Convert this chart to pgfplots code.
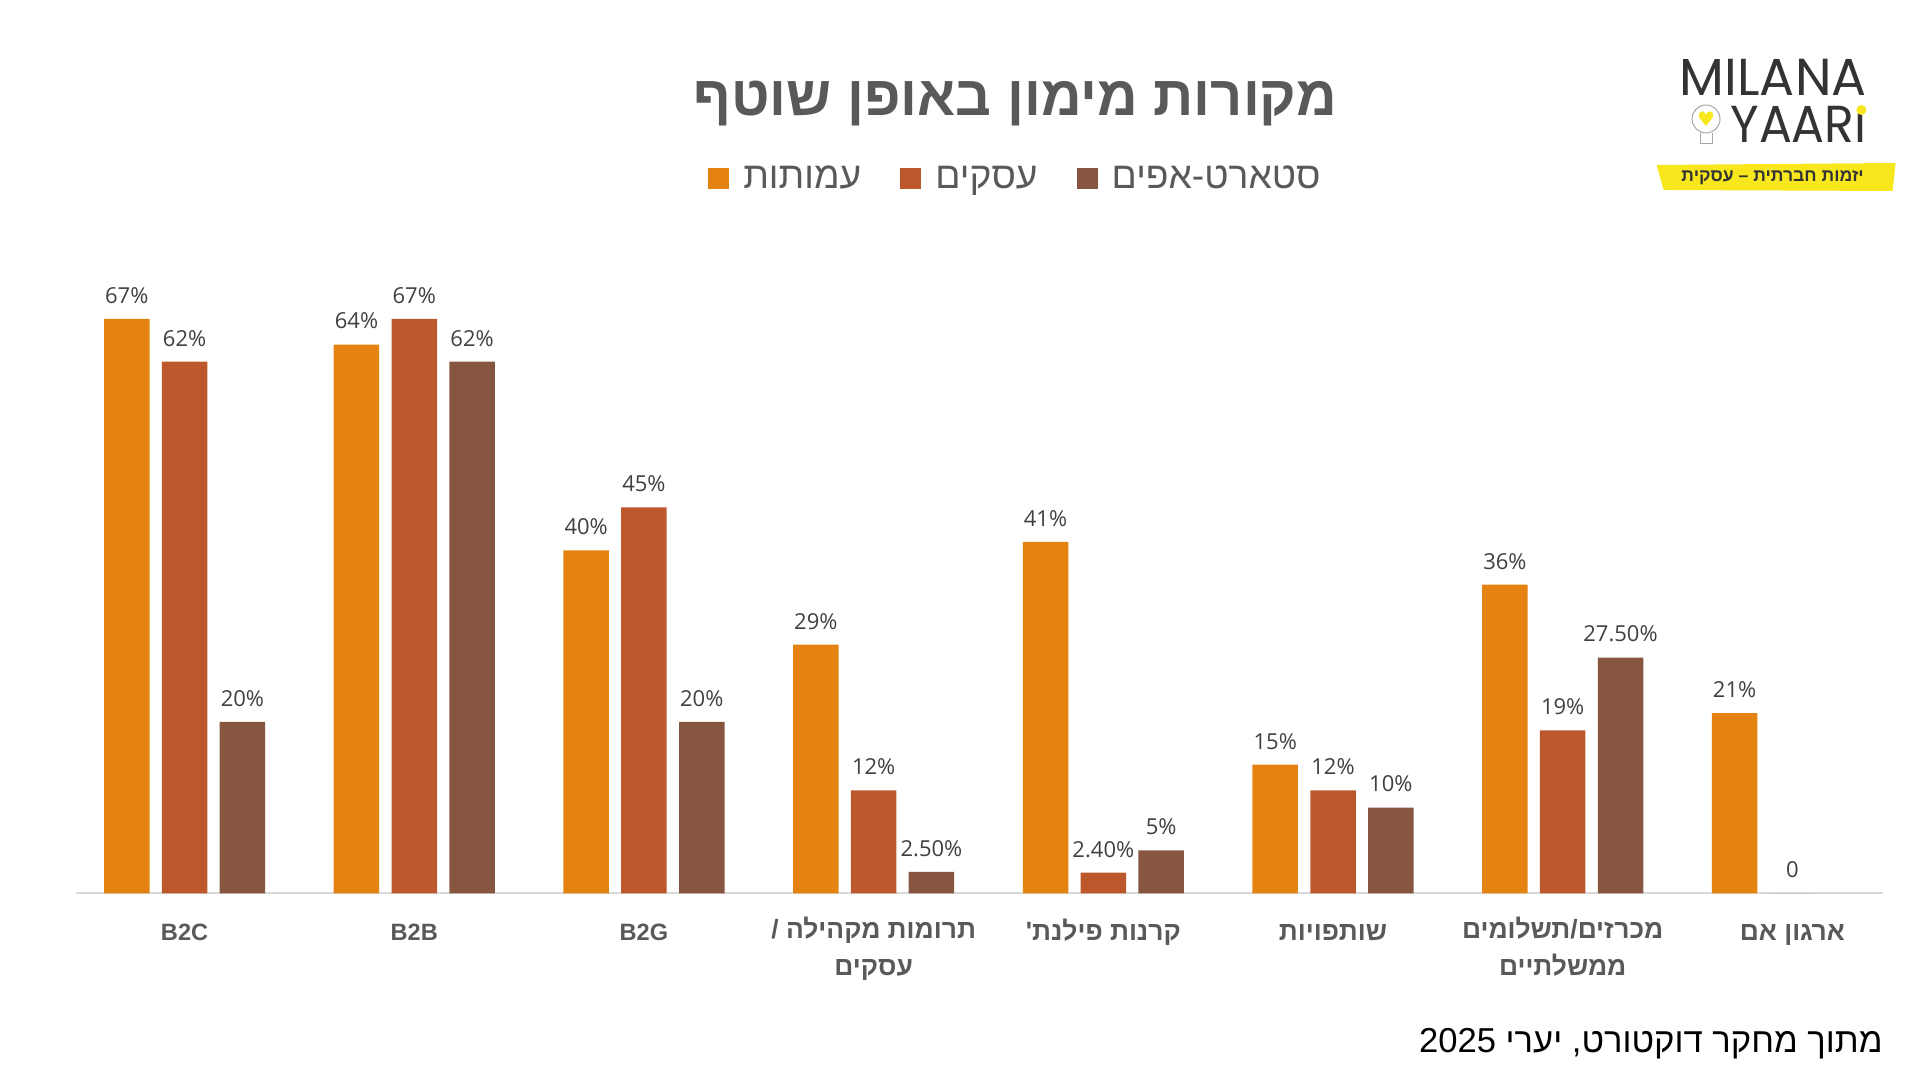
\documentclass[border=0pt]{standalone}
\usepackage{fontspec}
\usepackage{pgfplots}
\pgfplotsset{compat=1.18}
\TeXXeTstate=1
\setmainfont{Liberation Sans}
\newfontfamily\heb[Script=Hebrew]{Liberation Sans}
\newfontfamily\lab{Open Sans}
\newfontfamily\logo{Poppins}
\newfontfamily\dv{DejaVu Sans}
\newcommand\hf{\fontsize{13.2}{17}\selectfont}
\definecolor{cA}{HTML}{E48312}
\definecolor{cB}{HTML}{BD582C}
\definecolor{cC}{HTML}{865640}
\definecolor{txt}{HTML}{595959}
\definecolor{lbl}{HTML}{404040}
\definecolor{axl}{HTML}{D9D9D9}
\definecolor{ylw}{HTML}{F7E71C}
\definecolor{logogray}{HTML}{333333}
\begin{document}
\begin{tikzpicture}
\useasboundingbox (0,0) rectangle (960pt,540pt);
\begin{axis}[
  at={(38pt,93.35pt)}, anchor=south west,
  x=114.84pt, y=4.287pt,
  xmin=-0.4728, xmax=7.394, ymin=0, ymax=80,
  ybar=6.15pt, bar width=22.75pt,
  axis y line=none, axis x line*=bottom,
  x axis line style={axl, line width=1pt, -},
  xtick={0,...,7},
  xticklabels={B2C, B2B, B2G,
    {{\hf\beginR תרומות מקהילה /\endR}\\[1.6pt]{\hf\beginR עסקים\endR}},
    {{\hf\beginR קרנות פילנת'\endR}},
    {{\hf\beginR שותפויות\endR}},
    {{\hf\beginR מכרזים/תשלומים\endR}\\[1.6pt]{\hf\beginR ממשלתיים\endR}},
    {{\hf\beginR ארגון אם\endR}}},
  major tick length=0pt,
  xticklabel style={anchor=north, yshift=-11.45pt, inner sep=0pt, align=center,
    font=\heb\bfseries\fontsize{11.8}{17}\selectfont, text=txt,
    execute at begin node={\strut}},
  point meta=explicit symbolic,
  nodes near coords,
  every node near coord/.append style={font=\lab\fontsize{11}{13}\selectfont, color=lbl, anchor=south, inner sep=0pt, yshift=7.5pt},
  legend columns=3,
  legend style={draw=none, fill=none, at={(0.5204,1.0422)}, anchor=center,
    font=\heb\fontsize{18.6}{22}\selectfont, text=txt, inner sep=0pt,
    /tikz/every odd column/.append style={column sep=5pt},
    /tikz/every even column/.append style={column sep=17.5pt}},
  legend image code/.code={\fill[#1] (0pt,-5.3pt) rectangle (10.6pt,5.3pt);},
  clip=false,
]
\addplot[fill=cA, draw=none] coordinates {
  (0,67) [67\%] (1,64) [64\%] (2,40) [40\%] (3,29) [29\%]
  (4,41) [41\%] (5,15) [15\%] (6,36) [36\%] (7,21) [21\%]};
\addlegendentry{\beginR עמותות\endR}
\addplot[fill=cB, draw=none] coordinates {
  (0,62) [62\%] (1,67) [67\%] (2,45) [45\%] (3,12) [12\%]
  (4,2.4) [2.40\%] (5,12) [12\%] (6,19) [19\%] (7,0) [0]};
\addlegendentry{\beginR עסקים\endR}
\addplot[fill=cC, draw=none] coordinates {
  (0,20) [20\%] (1,62) [62\%] (2,20) [20\%] (3,2.5) [2.50\%]
  (4,5) [5\%] (5,10) [10\%] (6,27.5) [27.50\%]};
\addlegendentry{\beginR סטארט-אפים\endR}
\end{axis}
% title
\node[font=\heb\bfseries\fontsize{28}{34}\selectfont, text=txt] at (507.5pt,488.3pt) {\beginR מקורות מימון באופן שוטף\endR};
% footer
\node[font=\heb\fontsize{17.3}{21}\selectfont, text=black, anchor=east, inner sep=0pt] at (941.5pt,18.2pt) {\beginR מתוך מחקר דוקטורט, יערי \beginL2025\endL\endR};
% logo
\node[font=\logo\fontsize{26}{30}\selectfont, text=logogray, anchor=base east, inner sep=0pt] at (933.5pt,492pt) {MILANA};
\node[font=\logo\fontsize{26}{30}\selectfont, text=logogray, anchor=base east, inner sep=0pt, xscale=0.94] at (933.5pt,468.5pt) {YAARı};
\fill[ylw] (930.7pt,485pt) circle (2.5pt);
\draw[gray!70, line width=0.5pt] (853pt,480.5pt) circle (7pt);
\node[text=ylw, font=\dv\fontsize{10}{10}\selectfont, inner sep=0pt] at (853pt,480.5pt) {♥};
\draw[gray!70, line width=0.5pt] (850pt,473.5pt) -- (850pt,468pt) -- (856pt,468pt) -- (856pt,473.5pt);
\fill[ylw] (828.3pt,457.5pt) -- (947.8pt,458.5pt) -- (946.3pt,444.5pt) -- (831.8pt,445pt) -- cycle;
\node[font=\heb\bfseries\fontsize{8.8}{11}\selectfont, text=logogray] at (886.3pt,451pt) {\beginR יזמות חברתית – עסקית\endR};
\end{tikzpicture}
\end{document}
